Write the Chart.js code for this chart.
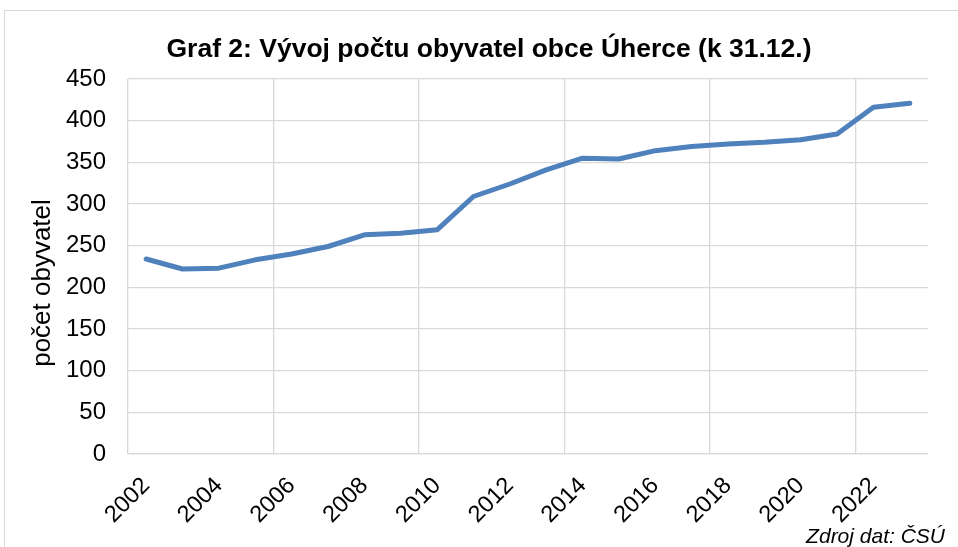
<!DOCTYPE html>
<html>
<head>
<meta charset="utf-8">
<script src="https://cdn.jsdelivr.net/npm/chart.js@4"></script>
<style>
  html, body { margin:0; padding:0; background:#fff; overflow:hidden; width:958px; height:547px; }
  #frame { position:absolute; left:4px; top:10px; width:1000px; height:600px; border:1px solid #d9d9d9; box-sizing:border-box; }
  #c { position:absolute; left:0; top:0; }
</style>
</head>
<body>
<div id="frame"></div>
<canvas id="c" width="958" height="547"></canvas>
<script>
const years = ['2002','2003','2004','2005','2006','2007','2008','2009','2010','2011','2012','2013','2014','2015','2016','2017','2018','2019','2020','2021','2022','2023'];
const population = [234, 222, 223, 233, 240, 249, 263, 265, 269, 309, 324, 341, 355, 354, 364, 369, 372, 374, 377, 384, 416, 421];
const yTicks = [0, 50, 100, 150, 200, 250, 300, 350, 400, 450];
const titleText = 'Graf 2: Vývoj počtu obyvatel obce Úherce (k 31.12.)';
const yTitle = 'počet obyvatel';
const sourceText = 'Zdroj dat: ČSÚ';

const FONT = "'Liberation Sans', Arial, sans-serif";
const GRID = '#d9d9d9';

const textPlugin = {
  id: 'texts',
  afterDraw(chart) {
    const ctx = chart.ctx;
    ctx.save();
    ctx.fillStyle = '#000';
    ctx.font = "bold 26.5px " + FONT;
    ctx.textAlign = 'center';
    ctx.textBaseline = 'alphabetic';
    ctx.fillText(titleText, 489, 57);
    ctx.font = "italic 21px " + FONT;
    ctx.textAlign = 'right';
    ctx.fillText(sourceText, 945, 543);
    ctx.save();
    ctx.translate(43, 283);
    ctx.rotate(-Math.PI / 2);
    ctx.font = "26px " + FONT;
    ctx.textAlign = 'center';
    ctx.textBaseline = 'middle';
    ctx.fillText(yTitle, 0, 0);
    ctx.restore();
    ctx.restore();
  }
};

new Chart(document.getElementById('c'), {
  type: 'line',
  data: {
    labels: years,
    datasets: [{
      data: population,
      borderColor: '#4F81BD',
      borderWidth: 5,
      pointRadius: 0,
      tension: 0,
      borderJoinStyle: 'round',
      borderCapStyle: 'round',
      fill: false
    }]
  },
  options: {
    responsive: false,
    animation: false,
    devicePixelRatio: 1,
    layout: { padding: { left: 0, right: 30, top: 79, bottom: 0 } },
    plugins: { legend: { display: false }, tooltip: { enabled: false }, title: { display: false } },
    scales: {
      x: {
        type: 'category',
        offset: true,
        grid: {
          offset: true,
          drawTicks: false,
          lineWidth: 1.3,
          color: (ctx) => (ctx.index !== undefined && ctx.index % 4 === 0) ? GRID : 'rgba(0,0,0,0)'
        },
        border: { display: true, color: GRID, width: 1.3 },
        ticks: {
          autoSkip: false,
          minRotation: 45,
          maxRotation: 45,
          padding: 18,
          color: '#000',
          font: { family: FONT, size: 23.5 },
          callback: function(value, index) { return index % 2 === 0 ? this.getLabelForValue(value) : ''; }
        },
        afterFit(scale) { scale.height = 547 - 454; }
      },
      y: {
        min: 0, max: 450,
        afterBuildTicks(scale) { scale.ticks = yTicks.map(v => ({ value: v })); },
        grid: { drawTicks: false, color: GRID, lineWidth: 1.3 },
        border: { display: false },
        ticks: { padding: 22, color: '#000', font: { family: FONT, size: 24 } },
        afterFit(scale) { scale.width = 128; }
      }
    }
  },
  plugins: [textPlugin]
});
</script>
</body>
</html>
